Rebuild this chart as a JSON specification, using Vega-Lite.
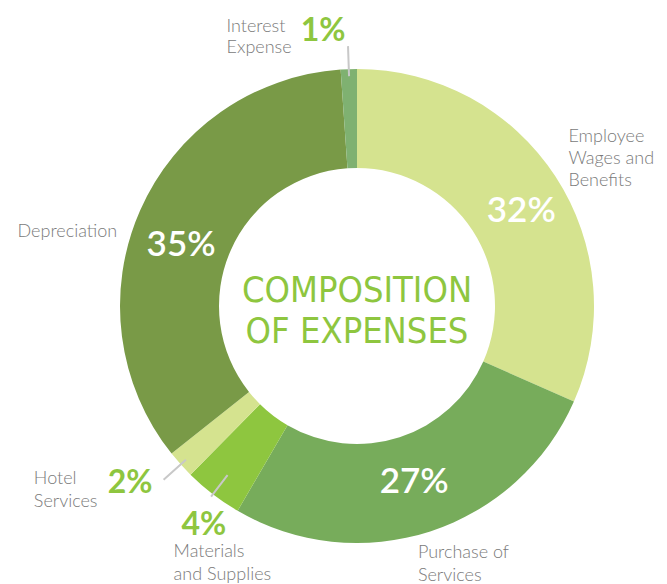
{
  "$schema": "https://vega.github.io/schema/vega-lite/v6.json",
  "width": 620,
  "height": 556,
  "autosize": {"type": "none"},
  "padding": {"left": 47, "top": 28, "right": 0, "bottom": 0},
  "background": "white",
  "config": {"view": {"stroke": null}},
  "data": {
    "values": [
      {"idx": 1, "category": "Employee Wages and Benefits", "label": "Employee\nWages and\nBenefits", "value": 31.6, "pct": "32%"},
      {"idx": 2, "category": "Purchase of Services", "label": "Purchase of\nServices", "value": 26.8, "pct": "27%"},
      {"idx": 3, "category": "Materials and Supplies", "label": "Materials\nand Supplies", "value": 4.0, "pct": "4%"},
      {"idx": 4, "category": "Hotel Services", "label": "Hotel\nServices", "value": 1.9, "pct": "2%"},
      {"idx": 5, "category": "Depreciation", "label": "Depreciation", "value": 34.6, "pct": "35%"},
      {"idx": 6, "category": "Interest Expense", "label": "Interest\nExpense", "value": 1.1, "pct": "1%"}
    ]
  },
  "layer": [
    {
      "mark": {"type": "arc", "innerRadius": 138, "outerRadius": 237},
      "encoding": {
        "theta": {"field": "value", "type": "quantitative", "stack": true},
        "order": {"field": "idx", "type": "quantitative"},
        "color": {
          "field": "category", "type": "nominal", "legend": null,
          "scale": {
            "domain": ["Employee Wages and Benefits", "Purchase of Services", "Materials and Supplies", "Hotel Services", "Depreciation", "Interest Expense"],
            "range": ["#d5e38f", "#77ac5b", "#8ec63f", "#d5e38f", "#799a47", "#7fb171"]
          }
        }
      }
    },
    {
      "mark": {"type": "arc", "radius": 260, "radius2": 230, "padAngle": 0.6, "fill": "transparent", "stroke": "#c8c8c8", "strokeWidth": 2},
      "encoding": {
        "theta": {"field": "value", "type": "quantitative", "stack": true},
        "order": {"field": "idx", "type": "quantitative"},
        "detail": {"field": "category", "type": "nominal"},
        "strokeOpacity": {"condition": {"test": "datum.category === 'Interest Expense' || datum.category === 'Hotel Services'", "value": 1}, "value": 0}
      }
    },
    {
      "mark": {"type": "arc", "radius": 240, "radius2": 213, "padAngle": 0.6, "fill": "transparent", "stroke": "#c8c8c8", "strokeWidth": 2},
      "encoding": {
        "theta": {"field": "value", "type": "quantitative", "stack": true},
        "order": {"field": "idx", "type": "quantitative"},
        "detail": {"field": "category", "type": "nominal"},
        "strokeOpacity": {"condition": {"test": "datum.category === 'Materials and Supplies'", "value": 1}, "value": 0}
      }
    },
    {
      "mark": {"type": "text", "radius": 195, "dx": 1, "dy": 12, "align": "center", "baseline": "middle", "font": "Lato", "fontWeight": 600, "fontSize": 35, "fill": "white"},
      "encoding": {
        "theta": {"field": "value", "type": "quantitative", "stack": true},
        "order": {"field": "idx", "type": "quantitative"},
        "detail": {"field": "category", "type": "nominal"},
        "text": {"condition": {"test": "datum.category === 'Employee Wages and Benefits'", "field": "pct", "type": "nominal"}, "value": ""}
      }
    },
    {
      "mark": {"type": "text", "radius": 185, "dx": 0, "dy": 0, "align": "center", "baseline": "middle", "font": "Lato", "fontWeight": 600, "fontSize": 35, "fill": "white"},
      "encoding": {
        "theta": {"field": "value", "type": "quantitative", "stack": true},
        "order": {"field": "idx", "type": "quantitative"},
        "detail": {"field": "category", "type": "nominal"},
        "text": {"condition": {"test": "datum.category === 'Purchase of Services'", "field": "pct", "type": "nominal"}, "value": ""}
      }
    },
    {
      "mark": {"type": "text", "radius": 190, "dx": -2, "dy": 16, "align": "center", "baseline": "middle", "font": "Lato", "fontWeight": 600, "fontSize": 35, "fill": "white"},
      "encoding": {
        "theta": {"field": "value", "type": "quantitative", "stack": true},
        "order": {"field": "idx", "type": "quantitative"},
        "detail": {"field": "category", "type": "nominal"},
        "text": {"condition": {"test": "datum.category === 'Depreciation'", "field": "pct", "type": "nominal"}, "value": ""}
      }
    },
    {
      "mark": {"type": "text", "radius": 275, "dx": -2, "dy": 0, "align": "right", "baseline": "middle", "font": "Lato", "fontWeight": "bold", "fontSize": 32, "fill": "#8ec63f"},
      "encoding": {
        "theta": {"field": "value", "type": "quantitative", "stack": true},
        "order": {"field": "idx", "type": "quantitative"},
        "detail": {"field": "category", "type": "nominal"},
        "text": {"condition": {"test": "datum.category === 'Interest Expense'", "field": "pct", "type": "nominal"}, "value": ""}
      }
    },
    {
      "mark": {"type": "text", "radius": 275, "dx": 0, "dy": -7, "align": "right", "baseline": "middle", "font": "Lato", "fontWeight": "bold", "fontSize": 32, "fill": "#8ec63f"},
      "encoding": {
        "theta": {"field": "value", "type": "quantitative", "stack": true},
        "order": {"field": "idx", "type": "quantitative"},
        "detail": {"field": "category", "type": "nominal"},
        "text": {"condition": {"test": "datum.category === 'Hotel Services'", "field": "pct", "type": "nominal"}, "value": ""}
      }
    },
    {
      "mark": {"type": "text", "radius": 275, "dx": 14, "dy": 1, "align": "center", "baseline": "middle", "font": "Lato", "fontWeight": "bold", "fontSize": 32, "fill": "#8ec63f"},
      "encoding": {
        "theta": {"field": "value", "type": "quantitative", "stack": true},
        "order": {"field": "idx", "type": "quantitative"},
        "detail": {"field": "category", "type": "nominal"},
        "text": {"condition": {"test": "datum.category === 'Materials and Supplies'", "field": "pct", "type": "nominal"}, "value": ""}
      }
    },
    {
      "mark": {"type": "text", "radius": 262, "dx": -8, "dy": -21, "align": "left", "baseline": "alphabetic", "font": "Lato", "fontWeight": 300, "fontSize": 18, "lineBreak": "\n", "lineHeight": 22, "fill": "#7a7a7a"},
      "encoding": {
        "theta": {"field": "value", "type": "quantitative", "stack": true},
        "order": {"field": "idx", "type": "quantitative"},
        "detail": {"field": "category", "type": "nominal"},
        "text": {"condition": {"test": "datum.category === 'Employee Wages and Benefits'", "field": "label", "type": "nominal"}, "value": ""}
      }
    },
    {
      "mark": {"type": "text", "radius": 265, "dx": -21, "dy": 0, "align": "left", "baseline": "alphabetic", "font": "Lato", "fontWeight": 300, "fontSize": 18, "lineBreak": "\n", "lineHeight": 23, "fill": "#7a7a7a"},
      "encoding": {
        "theta": {"field": "value", "type": "quantitative", "stack": true},
        "order": {"field": "idx", "type": "quantitative"},
        "detail": {"field": "category", "type": "nominal"},
        "text": {"condition": {"test": "datum.category === 'Purchase of Services'", "field": "label", "type": "nominal"}, "value": ""}
      }
    },
    {
      "mark": {"type": "text", "radius": 300, "dx": -1, "dy": 13, "align": "left", "baseline": "alphabetic", "font": "Lato", "fontWeight": 300, "fontSize": 18, "lineBreak": "\n", "lineHeight": 23, "fill": "#7a7a7a"},
      "encoding": {
        "theta": {"field": "value", "type": "quantitative", "stack": true},
        "order": {"field": "idx", "type": "quantitative"},
        "detail": {"field": "category", "type": "nominal"},
        "text": {"condition": {"test": "datum.category === 'Materials and Supplies'", "field": "label", "type": "nominal"}, "value": ""}
      }
    },
    {
      "mark": {"type": "text", "radius": 300, "dx": -100, "dy": -23, "align": "left", "baseline": "alphabetic", "font": "Lato", "fontWeight": 300, "fontSize": 18, "lineBreak": "\n", "lineHeight": 23, "fill": "#7a7a7a"},
      "encoding": {
        "theta": {"field": "value", "type": "quantitative", "stack": true},
        "order": {"field": "idx", "type": "quantitative"},
        "detail": {"field": "category", "type": "nominal"},
        "text": {"condition": {"test": "datum.category === 'Hotel Services'", "field": "label", "type": "nominal"}, "value": ""}
      }
    },
    {
      "mark": {"type": "text", "radius": 250, "dx": -11, "dy": 32, "align": "right", "baseline": "alphabetic", "font": "Lato", "fontWeight": 300, "fontSize": 18, "lineBreak": "\n", "lineHeight": 23, "fill": "#7a7a7a"},
      "encoding": {
        "theta": {"field": "value", "type": "quantitative", "stack": true},
        "order": {"field": "idx", "type": "quantitative"},
        "detail": {"field": "category", "type": "nominal"},
        "text": {"condition": {"test": "datum.category === 'Depreciation'", "field": "label", "type": "nominal"}, "value": ""}
      }
    },
    {
      "mark": {"type": "text", "radius": 275, "dx": -121, "dy": 1, "align": "left", "baseline": "alphabetic", "font": "Lato", "fontWeight": 300, "fontSize": 18, "lineBreak": "\n", "lineHeight": 21, "fill": "#7a7a7a"},
      "encoding": {
        "theta": {"field": "value", "type": "quantitative", "stack": true},
        "order": {"field": "idx", "type": "quantitative"},
        "detail": {"field": "category", "type": "nominal"},
        "text": {"condition": {"test": "datum.category === 'Interest Expense'", "field": "label", "type": "nominal"}, "value": ""}
      }
    },
    {
      "data": {"values": [{"title": "COMPOSITION\nOF EXPENSES"}]},
      "mark": {"type": "text", "align": "center", "baseline": "alphabetic", "dy": -4, "font": "'DejaVu Sans Condensed', 'DejaVu Sans'", "fontSize": 36, "lineBreak": "\n", "lineHeight": 41, "fill": "#8ec63f"},
      "encoding": {"text": {"field": "title", "type": "nominal"}}
    }
  ]
}
